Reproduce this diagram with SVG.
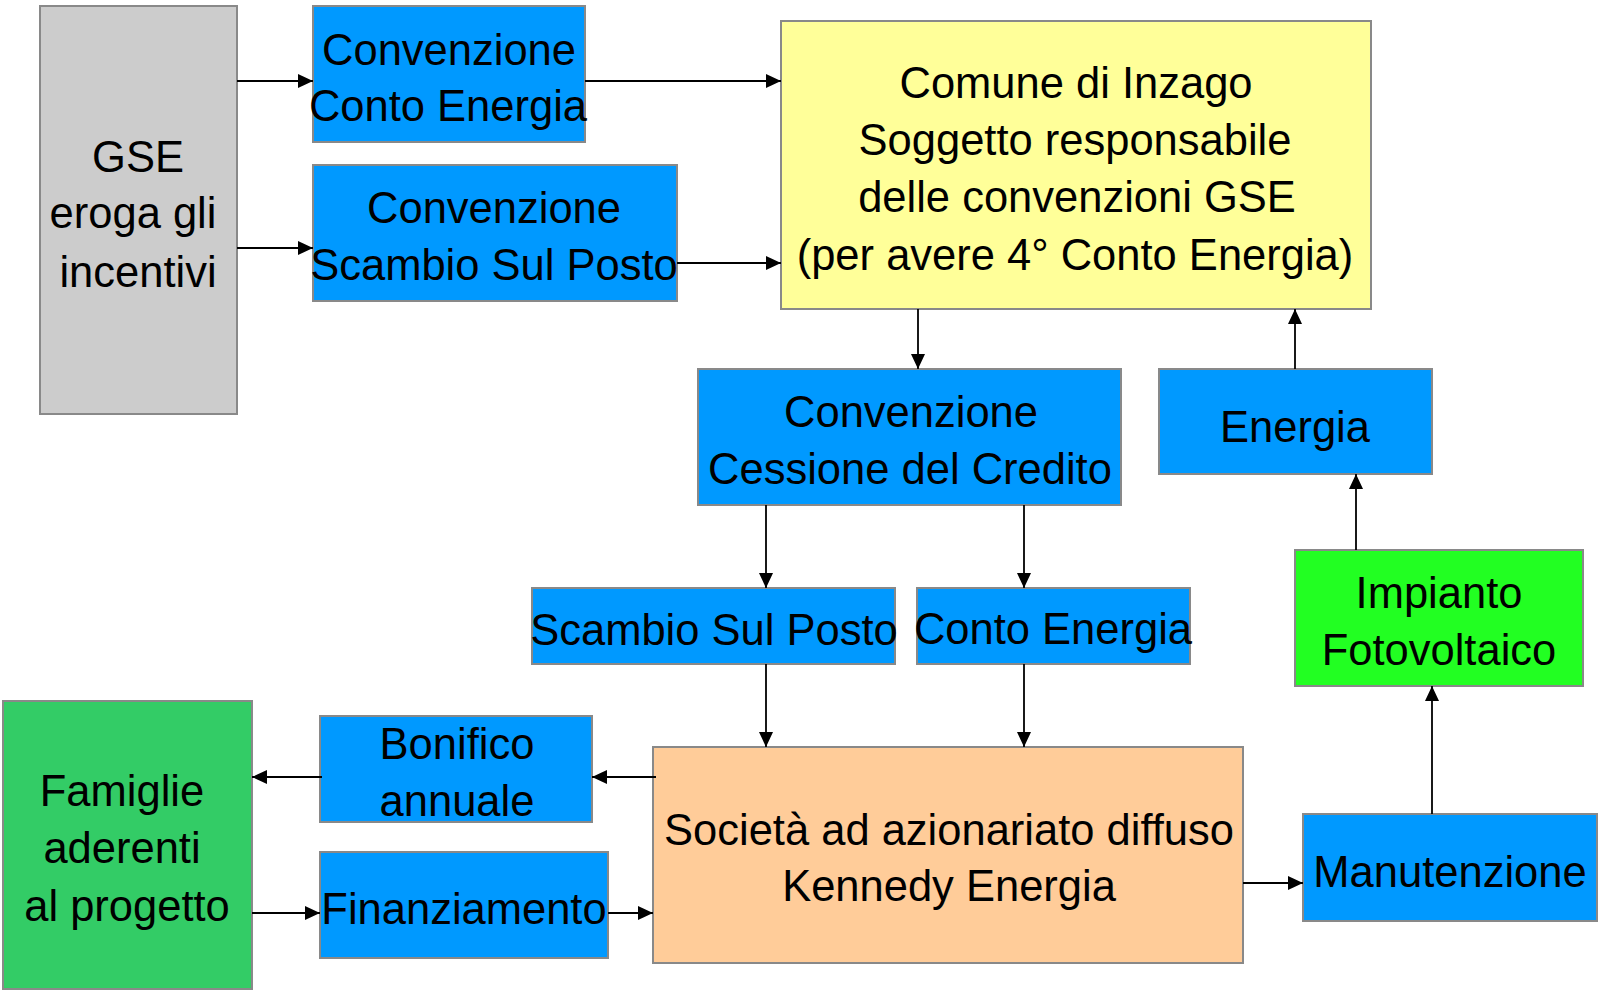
<svg xmlns="http://www.w3.org/2000/svg" width="1604" height="994" viewBox="0 0 1604 994">
<defs>
<style>
.box{stroke:#898989;stroke-width:2}
.blue{fill:#0099FF}
.gray{fill:#CCCCCC}
.yellow{fill:#FFFF99}
.green{fill:#33CC66}
.lime{fill:#22FF22}
.peach{fill:#FFCC99}
text{font-family:"Liberation Sans",Arial,sans-serif;font-size:43.5px;fill:#000;text-anchor:middle}
.edge{stroke:#000;stroke-width:1.8;fill:none;marker-end:url(#ah)}
</style>
<marker id="ah" markerUnits="userSpaceOnUse" markerWidth="15" markerHeight="14" refX="15" refY="7" orient="auto">
<path d="M0,0 L15,7 L0,14 Z" fill="#000"/>
</marker>
</defs>
<rect width="1604" height="994" fill="#fff"/>
<g id="gse">
<rect class="box gray" x="40" y="6" width="197" height="408"/>
<text x="138" y="172">GSE</text>
<text x="133" y="228">eroga gli</text>
<text x="138" y="287">incentivi</text>
</g>
<g id="conv-conto-energia">
<rect class="box blue" x="313" y="6" width="272" height="136"/>
<text x="449" y="65">Convenzione</text>
<text x="448" y="121">Conto Energia</text>
</g>
<g id="conv-scambio">
<rect class="box blue" x="313" y="165" width="364" height="136"/>
<text x="494" y="223">Convenzione</text>
<text x="494" y="280">Scambio Sul Posto</text>
</g>
<g id="comune">
<rect class="box yellow" x="781" y="21" width="590" height="288"/>
<text x="1076" y="98">Comune di Inzago</text>
<text x="1075" y="155">Soggetto responsabile</text>
<text x="1077" y="212">delle convenzioni GSE</text>
<text x="1075" y="270">(per avere 4° Conto Energia)</text>
</g>
<g id="cessione">
<rect class="box blue" x="698" y="369" width="423" height="136"/>
<text x="911" y="427">Convenzione</text>
<text x="910" y="484">Cessione del Credito</text>
</g>
<g id="energia">
<rect class="box blue" x="1159" y="369" width="273" height="105"/>
<text x="1295" y="442">Energia</text>
</g>
<g id="scambio">
<rect class="box blue" x="532" y="588" width="363" height="76"/>
<text x="714" y="645">Scambio Sul Posto</text>
</g>
<g id="conto-energia">
<rect class="box blue" x="917" y="588" width="273" height="76"/>
<text x="1053" y="644">Conto Energia</text>
</g>
<g id="impianto">
<rect class="box lime" x="1295" y="550" width="288" height="136"/>
<text x="1439" y="608">Impianto</text>
<text x="1439" y="665">Fotovoltaico</text>
</g>
<g id="famiglie">
<rect class="box green" x="3" y="701" width="249" height="288"/>
<text x="122" y="806">Famiglie</text>
<text x="122" y="863">aderenti</text>
<text x="127" y="921">al progetto</text>
</g>
<g id="bonifico">
<rect class="box blue" x="320" y="716" width="272" height="106"/>
<text x="457" y="759">Bonifico</text>
<text x="457" y="816">annuale</text>
</g>
<g id="finanziamento">
<rect class="box blue" x="320" y="852" width="288" height="106"/>
<text x="464" y="924">Finanziamento</text>
</g>
<g id="societa">
<rect class="box peach" x="653" y="747" width="590" height="216"/>
<text x="949" y="845">Società ad azionariato diffuso</text>
<text x="949" y="901">Kennedy Energia</text>
</g>
<g id="manutenzione">
<rect class="box blue" x="1303" y="814" width="294" height="107"/>
<text x="1450" y="887">Manutenzione</text>
</g>
<g id="connectors">
<path class="edge" d="M237,81 H313"/>
<path class="edge" d="M237,248 H313"/>
<path class="edge" d="M585,81 H781"/>
<path class="edge" d="M677,263 H781"/>
<path class="edge" d="M918,309 V369"/>
<path class="edge" d="M1295,369 V309"/>
<path class="edge" d="M1356,550 V474"/>
<path class="edge" d="M766,505 V588"/>
<path class="edge" d="M1024,505 V588"/>
<path class="edge" d="M766,664 V747"/>
<path class="edge" d="M1024,664 V747"/>
<path class="edge" d="M656,777 H592"/>
<path class="edge" d="M322,777 H252"/>
<path class="edge" d="M252,913 H320"/>
<path class="edge" d="M608,913 H653"/>
<path class="edge" d="M1243,883 H1303"/>
<path class="edge" d="M1432,814 V686"/>
</g>
</svg>
